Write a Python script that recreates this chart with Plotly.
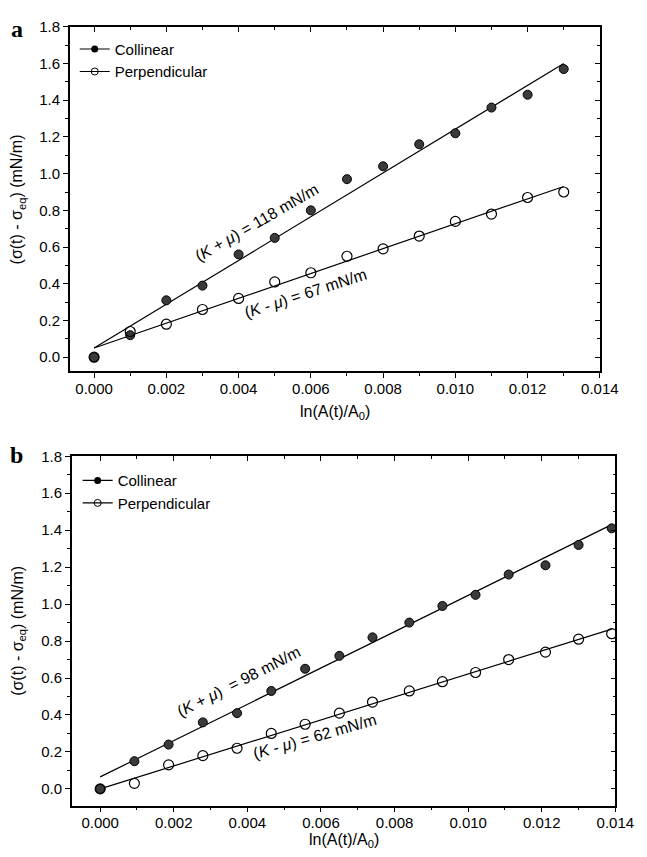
import plotly.graph_objects as go

# ---------------- data (panel a) ----------------
a_x = [0.000, 0.001, 0.002, 0.003, 0.004, 0.005, 0.006, 0.007, 0.008, 0.009, 0.010, 0.011, 0.012, 0.013]
a_col = [0.00, 0.12, 0.31, 0.39, 0.56, 0.65, 0.80, 0.97, 1.04, 1.16, 1.22, 1.36, 1.43, 1.57]
a_perp = [0.00, 0.14, 0.18, 0.26, 0.32, 0.41, 0.46, 0.55, 0.59, 0.66, 0.74, 0.78, 0.87, 0.90]
a_fit_x = [0.000, 0.013]
a_fit_col = [0.05, 1.60]
a_fit_perp = [0.05, 0.93]

# ---------------- data (panel b) ----------------
b_x = [0.0, 0.00093, 0.00186, 0.00279, 0.00372, 0.00465, 0.00557, 0.0065, 0.0074,
       0.0084, 0.0093, 0.0102, 0.0111, 0.0121, 0.0130, 0.0139]
b_col = [0.00, 0.15, 0.24, 0.36, 0.41, 0.53, 0.65, 0.72, 0.82, 0.90, 0.99, 1.05, 1.16, 1.21, 1.32, 1.41]
b_perp = [0.00, 0.03, 0.13, 0.18, 0.22, 0.30, 0.35, 0.41, 0.47, 0.53, 0.58, 0.63, 0.70, 0.74, 0.81, 0.84]
b_fit_x = [0.000, 0.0139]
b_fit_col = [0.065, 1.43]
b_fit_perp = [0.00, 0.865]

series_names = ["Collinear", "Perpendicular"]
labels_a = ["(<i>K</i> + <i>μ</i>) = 118 mN/m", "(<i>K</i> - <i>μ</i>) = 67 mN/m"]
labels_b = ["(<i>K</i> + <i>μ</i>)  = 98 mN/m", "(<i>K</i> - <i>μ</i>) = 62 mN/m"]

FONT = "Liberation Sans, Arial, sans-serif"
W, H = 647, 857

def px_x(p):
    return p / W

def px_y(p):
    return 1 - p / H

col_marker = dict(symbol="circle", size=9, color="#3a3a3a", line=dict(color="black", width=1))
perp_marker = dict(symbol="circle-open", size=10, color="black", line=dict(width=1.2))

fig = go.Figure()

def add_panel(xs, col, perp, fx, fcol, fperp, xa, ya, legend):
    fig.add_trace(go.Scatter(x=fx, y=fcol, mode="lines", line=dict(color="black", width=1.2),
                             xaxis=xa, yaxis=ya, showlegend=False, hoverinfo="skip"))
    fig.add_trace(go.Scatter(x=fx, y=fperp, mode="lines", line=dict(color="black", width=1.2),
                             xaxis=xa, yaxis=ya, showlegend=False, hoverinfo="skip"))
    fig.add_trace(go.Scatter(x=xs, y=col, mode="markers", marker=col_marker,
                             xaxis=xa, yaxis=ya, showlegend=False))
    fig.add_trace(go.Scatter(x=xs, y=perp, mode="markers", marker=perp_marker,
                             xaxis=xa, yaxis=ya, showlegend=False))
    # legend entries (line + marker symbol)
    fig.add_trace(go.Scatter(x=[None], y=[None], mode="lines+markers", name=series_names[0],
                             marker=dict(symbol="circle", size=7, color="black"),
                             line=dict(color="black", width=1.2),
                             xaxis=xa, yaxis=ya, legend=legend))
    fig.add_trace(go.Scatter(x=[None], y=[None], mode="lines+markers", name=series_names[1],
                             marker=dict(symbol="circle-open", size=7, color="black"),
                             line=dict(color="black", width=1.2),
                             xaxis=xa, yaxis=ya, legend=legend))

add_panel(a_x, a_col, a_perp, a_fit_x, a_fit_col, a_fit_perp, "x", "y", "legend")
add_panel(b_x, b_col, b_perp, b_fit_x, b_fit_col, b_fit_perp, "x2", "y2", "legend2")

# invisible traces for mirrored (inward) top/right axes
fig.add_trace(go.Scatter(x=[None], y=[None], xaxis="x3", yaxis="y3", showlegend=False, hoverinfo="skip"))
fig.add_trace(go.Scatter(x=[None], y=[None], xaxis="x4", yaxis="y4", showlegend=False, hoverinfo="skip"))

tickfont = dict(family=FONT, size=15, color="black")

def xaxis_cfg(domain, rng, anchor):
    return dict(domain=domain, range=rng, anchor=anchor, showgrid=False, zeroline=False,
                showline=True, linecolor="black", linewidth=1.5,
                ticks="outside", ticklen=5, tickwidth=1, tickcolor="black",
                dtick=0.002, tick0=0, tickformat=".3f", tickfont=tickfont, ticklabelstandoff=-2,
                minor=dict(dtick=0.001, ticks="outside", ticklen=3, tickcolor="black", showgrid=False))

def yaxis_cfg(domain, rng, anchor):
    return dict(domain=domain, range=rng, anchor=anchor, showgrid=False, zeroline=False,
                showline=True, linecolor="black", linewidth=1.5,
                ticks="outside", ticklen=5, tickwidth=1, tickcolor="black",
                dtick=0.2, tick0=0, tickformat=".1f", tickfont=tickfont,
                minor=dict(dtick=0.1, ticks="outside", ticklen=3, tickcolor="black", showgrid=False))

def mirror_x(over, rng, anchor):
    return dict(overlaying=over, side="top", anchor=anchor, range=rng, showgrid=False, zeroline=False,
                showline=True, linecolor="black", linewidth=1.5, showticklabels=False,
                ticks="inside", ticklen=5, tickcolor="black", dtick=0.002, tick0=0,
                minor=dict(dtick=0.001, ticks="inside", ticklen=3, tickcolor="black"))

def mirror_y(over, rng, anchor):
    return dict(overlaying=over, side="right", anchor=anchor, range=rng, showgrid=False, zeroline=False,
                showline=True, linecolor="black", linewidth=1.5, showticklabels=False,
                ticks="inside", ticklen=5, tickcolor="black", dtick=0.2, tick0=0,
                minor=dict(dtick=0.1, ticks="inside", ticklen=3, tickcolor="black"))

xr_a = [-0.00067, 0.014]
yr_a = [-0.076, 1.8]
xr_b = [-0.00077, 0.014]
yr_b = [-0.09, 1.8]

dom_xa = [px_x(72), px_x(618)]
dom_ya = [px_y(366), px_y(18)]
dom_xb = [px_x(74), px_x(634)]
dom_yb = [px_y(805), px_y(452)]

annots = []

def pa(text, x, y, font, angle=0):
    annots.append(dict(text=text, x=px_x(x), y=px_y(y), xref="paper", yref="paper",
                       xanchor="center", yanchor="middle", textangle=angle,
                       showarrow=False, font=font))

letter_font = dict(family="Liberation Serif, serif", size=24, color="black")
pa("<b>a</b>", 17, 20, letter_font)
pa("<b>b</b>", 17, 451, letter_font)

ytitle = "(σ(t) - σ<sub>eq</sub>) (mN/m)"
xtitle = "ln(A(t)/A<sub>0</sub>)"
tfont = dict(family=FONT, size=16, color="black")
pa(ytitle, 19, 192, tfont, -90)
pa(ytitle, 19, 628, tfont, -90)
pa(xtitle, 345, 408, tfont)
pa(xtitle, 354, 840, tfont)

lfont = dict(family=FONT, size=16, color="black")

def da(text, x, y, xr, yr, angle):
    annots.append(dict(text=text, x=x, y=y, xref=xr, yref=yr, textangle=angle,
                       xanchor="center", yanchor="middle", showarrow=False, font=lfont))

da(labels_a[0], 0.0045, 0.735, "x", "y", -30)
da(labels_a[1], 0.00584, 0.346, "x", "y", -18)
da(labels_b[0], 0.00377, 0.58, "x2", "y2", -27)
da(labels_b[1], 0.00583, 0.285, "x2", "y2", -16)

legend_font = dict(family=FONT, size=15, color="black")

fig.update_layout(
    width=W, height=H, margin=dict(l=0, r=0, t=0, b=0),
    paper_bgcolor="white", plot_bgcolor="white",
    showlegend=True,
    xaxis=xaxis_cfg(dom_xa, xr_a, "y"),
    yaxis=yaxis_cfg(dom_ya, yr_a, "x"),
    xaxis2=xaxis_cfg(dom_xb, xr_b, "y2"),
    yaxis2=yaxis_cfg(dom_yb, yr_b, "x2"),
    xaxis3=mirror_x("x", xr_a, "y3"),
    yaxis3=mirror_y("y", yr_a, "x3"),
    xaxis4=mirror_x("x2", xr_b, "y4"),
    yaxis4=mirror_y("y2", yr_b, "x4"),
    legend=dict(x=px_x(77), y=px_y(24), xanchor="left", yanchor="top", bgcolor="rgba(0,0,0,0)",
                font=legend_font, tracegroupgap=0, borderwidth=0),
    legend2=dict(x=px_x(80), y=px_y(460), xanchor="left", yanchor="top", bgcolor="rgba(0,0,0,0)",
                 font=legend_font, tracegroupgap=0, borderwidth=0),
    annotations=annots,
)

fig.write_html("out.html")
